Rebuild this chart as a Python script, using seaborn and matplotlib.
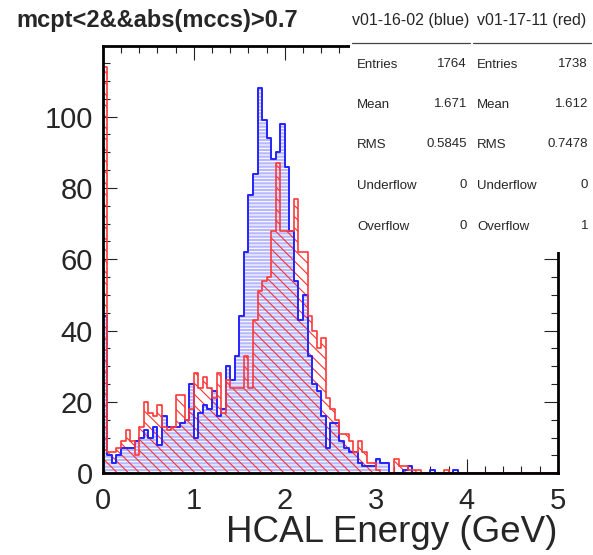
import numpy as np
import pandas as pd
import matplotlib
matplotlib.use("Agg")
import matplotlib.pyplot as plt
import seaborn as sns
from matplotlib.ticker import MultipleLocator
from matplotlib.patches import Rectangle
from matplotlib.lines import Line2D

# ---------------- data ----------------
x_min, x_max, n_bins = 0.0, 5.0, 100

blue_counts = [44, 5, 3, 5, 7, 7, 7, 9, 10, 12,
               10, 13, 8, 16, 13, 13, 13, 14, 15, 25,
               10, 17, 19, 18, 23, 16, 18, 30, 26, 33,
               44, 62, 78, 84, 108, 99, 94, 88, 90, 98,
               86, 68, 54, 43, 50, 33, 25, 23, 16, 7,
               14, 14, 9, 7, 6, 6, 3, 2, 2, 2,
               4, 3, 3, 0, 0, 0, 1, 2, 0, 0,
               0, 0, 1, 0, 0, 0, 0, 1, 0, 0,
               0, 0, 0, 0, 0, 0, 0, 0, 0, 0,
               0, 0, 0, 0, 0, 0, 0, 0, 0, 0]

red_counts = [114, 6, 6, 7, 9, 12, 9, 5, 13, 20,
              17, 16, 19, 13, 12, 13, 22, 22, 15, 18,
              28, 24, 27, 24, 21, 28, 17, 26, 24, 24,
              24, 33, 24, 43, 51, 54, 55, 68, 87, 68,
              68, 68, 77, 62, 62, 44, 40, 35, 38, 21,
              18, 15, 11, 11, 9, 6, 9, 6, 3, 3,
              1, 0, 0, 0, 4, 2, 2, 1, 1, 1,
              0, 0, 0, 0, 0, 1, 0, 0, 0, 0,
              0, 0, 0, 0, 0, 0, 0, 0, 0, 0,
              0, 0, 0, 0, 0, 0, 0, 0, 0, 0]

title_text = "mcpt<2&&abs(mccs)>0.7"
x_label = "HCAL Energy (GeV)"
blue_name = "v01-16-02 (blue)"
red_name = "v01-17-11 (red)"
stat_labels = ["Entries", "Mean", "RMS", "Underflow", "Overflow"]
blue_stats = ["1764", "1.671", "0.5845", "0", "0"]
red_stats = ["1738", "1.612", "0.7478", "0", "1"]

# ---------------- figure ----------------
sns.set_style("ticks")
plt.rcParams["font.family"] = ["Liberation Sans", "DejaVu Sans"]
plt.rcParams["hatch.linewidth"] = 0.8

W, H = 593, 555
fig = plt.figure(figsize=(W / 100, H / 100), dpi=100)
ax = fig.add_axes([102.8 / W, 1 - 473.2 / H, 455 / W, (473.2 - 46) / H])

bw = (x_max - x_min) / n_bins
centers = x_min + bw * (np.arange(n_bins) + 0.5)
df = pd.DataFrame({"x": centers, "blue": blue_counts, "red": red_counts})
hist_kw = dict(data=df, x="x", bins=n_bins, binrange=(x_min, x_max),
               element="step", ax=ax)

# blue filled histogram (light blue with white horizontal dashes)
sns.histplot(weights="blue", fill=True, alpha=1, color="#b8b8ff",
             facecolor="#b8b8ff", edgecolor="white", linewidth=0,
             hatch="-----", **hist_kw)
# red hatched histogram
sns.histplot(weights="red", fill=True, alpha=1, color="#ff3030",
             facecolor=(1, 1, 1, 0), edgecolor="#ff3030", linewidth=0,
             hatch="\\\\\\", **hist_kw)
# outlines
sns.histplot(weights="blue", fill=False, color="#2424ff", linewidth=1.4, **hist_kw)
sns.histplot(weights="red", fill=False, color="#ff3838", linewidth=1.2, **hist_kw)

ax.set_xlim(x_min, x_max)
ax.set_ylim(0, 119.8)
ax.set_ylabel("")
ax.set_xlabel(x_label, fontsize=26.5, loc="right", labelpad=0)

ax.xaxis.set_major_locator(MultipleLocator(1))
ax.xaxis.set_minor_locator(MultipleLocator(0.2))
ax.yaxis.set_major_locator(MultipleLocator(20))
ax.yaxis.set_minor_locator(MultipleLocator(5))
ax.tick_params(which="both", direction="in", top=True, right=True,
               color="#222222", width=0.8)
ax.tick_params(which="major", length=10, labelsize=21)
ax.tick_params(axis="y", which="major", pad=7)
ax.tick_params(axis="x", which="major", pad=10)
ax.tick_params(which="minor", length=5)
for s in ax.spines.values():
    s.set_linewidth(2)
    s.set_color("black")
    s.set_visible(True)

# ---------------- stats box & title ----------------
fig.add_artist(Rectangle((350 / W, 1 - 252 / H), 1 - 350 / W, 252 / H,
                         transform=fig.transFigure, facecolor="white",
                         edgecolor="none", zorder=5))

fig.text(16 / W, 1 - 20 / H, title_text, fontsize=17, fontweight="bold",
         ha="left", va="center", zorder=6)

fig.text(411 / W, 1 - 21 / H, blue_name, fontsize=11.5, ha="center",
         va="center", zorder=6)
fig.text(532 / W, 1 - 21 / H, red_name, fontsize=11.5, ha="center",
         va="center", zorder=6)
for x0, x1 in [(352, 470), (473, 591)]:
    fig.add_artist(Line2D([x0 / W, x1 / W], [1 - 43 / H, 1 - 43 / H],
                          transform=fig.transFigure, color="#444444",
                          linewidth=0.9, zorder=6))

row_y = [65, 105, 145, 186, 227]
for lab, bv, rv, yy in zip(stat_labels, blue_stats, red_stats, row_y):
    fig.text(357 / W, 1 - yy / H, lab, fontsize=9.5, ha="left", va="center", zorder=6)
    fig.text(467 / W, 1 - (yy - 1) / H, bv, fontsize=9.5, ha="right", va="center", zorder=6)
    fig.text(477 / W, 1 - yy / H, lab, fontsize=9.5, ha="left", va="center", zorder=6)
    fig.text(588 / W, 1 - (yy - 1) / H, rv, fontsize=9.5, ha="right", va="center", zorder=6)

fig.savefig("out.png", dpi=100)
